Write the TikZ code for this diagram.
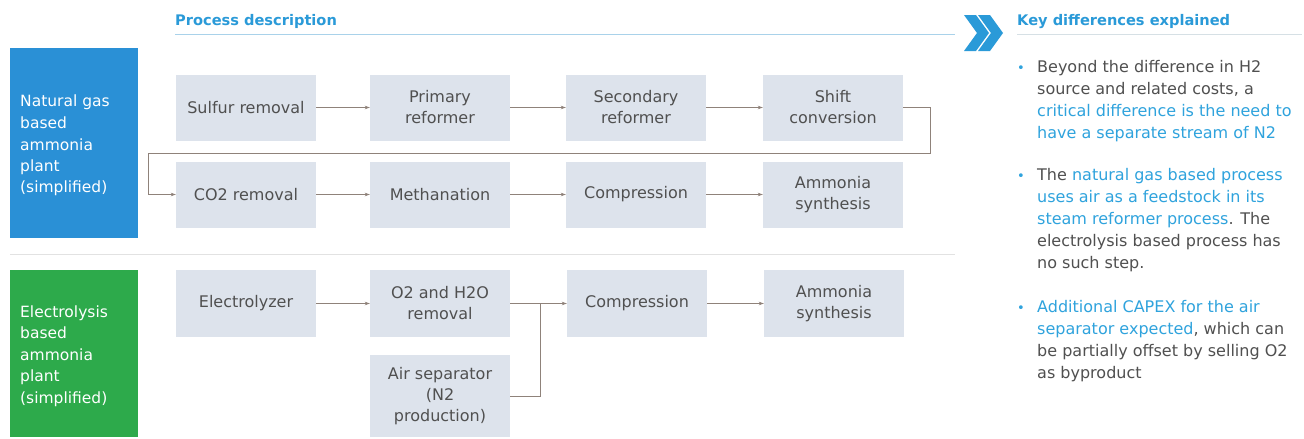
\documentclass[tikz,border=0pt]{standalone}
\usepackage{fontspec}
\setmainfont{DejaVu Sans}
\usetikzlibrary{arrows.meta}
\definecolor{ngblue}{HTML}{2A90D6}
\definecolor{elgreen}{HTML}{2DAA4B}
\definecolor{boxgray}{HTML}{DDE3EC}
\definecolor{txtgray}{HTML}{505050}
\definecolor{hblue}{HTML}{2A9AD8}
\definecolor{hiblue}{HTML}{2FA3DD}
\definecolor{linec}{HTML}{8F827A}
\definecolor{rulec}{HTML}{A9D2EA}
\definecolor{sepc}{HTML}{E2E2E2}
\begin{document}
\begin{tikzpicture}[x=1pt,y=-1pt,
  proc/.style={fill=boxgray, draw=none, minimum width=140pt, minimum height=66pt,
    text=txtgray, align=center, inner sep=0pt,
    font=\fontsize{16}{21}\selectfont},
  flow/.style={draw=linec, line width=0.7pt, -{Stealth[length=5pt,width=3.5pt]}},
  link/.style={draw=linec, line width=0.7pt},
  side/.style={anchor=base west, text=white, inner sep=0pt,
    font=\fontsize{15.5}{18}\selectfont},
  head/.style={anchor=base west, text=hblue, inner sep=0pt,
    font=\fontsize{14.6}{16}\selectfont\bfseries},
  note/.style={anchor=base west, text=txtgray, inner sep=0pt,
    font=\fontsize{16}{18}\selectfont},
  dot/.style={anchor=base west, text=hiblue, inner sep=0pt,
    font=\fontsize{13}{16}\selectfont}]
\useasboundingbox (0,0) rectangle (1304,439);
\fill[white] (0,0) rectangle (1304,439);

% headers
\node[head] (h1) at (175,25) {Process description};
\draw[rulec, line width=1pt] (175,34) -- (955,34);
\node[head] (h2) at (1017,25) {Key differences explained};
\draw[rulec!60!gray!40, line width=0.8pt] (1017,34) -- (1302,34);
% chevrons
\fill[hblue] (964,15) -- (976,15) -- (989,33) -- (976,51) -- (964,51) -- (977,33) -- cycle;
\fill[hblue] (978,15) -- (990,15) -- (1003,33) -- (990,51) -- (978,51) -- (991,33) -- cycle;

% separator
\draw[sepc, line width=1pt] (10,254) -- (955,254);

% side boxes
\fill[ngblue] (10,48) rectangle (138,238);
\node[side] (s1) at (20,106) {Natural gas};
\node[side] (s2) at (20,128) {based};
\node[side] (s3) at (20,150) {ammonia};
\node[side] (s4) at (20,171) {plant};
\node[side] (s5) at (20,192) {(simplified)};
\fill[elgreen] (10,270) rectangle (138,437);
\node[side] (g1) at (20,317) {Electrolysis};
\node[side] (g2) at (20,338) {based};
\node[side] (g3) at (20,360) {ammonia};
\node[side] (g4) at (20,381) {plant};
\node[side] (g5) at (20,403) {(simplified)};

% natural gas process
\node[proc] (sulf) at (246,107.5) {Sulfur removal};
\node[proc] (prim) at (440,107.5) {Primary\\reformer};
\node[proc] (sec)  at (636,107.5) {Secondary\\reformer};
\node[proc] (shift) at (833,107.5) {Shift\\conversion};
\node[proc] (co2)  at (246,194.5) {CO2 removal};
\node[proc] (meth) at (440,194.5) {Methanation};
\node[proc] (comp1) at (636,194.5) {Compression};
\node[proc] (amm1) at (833,194.5) {Ammonia\\synthesis};

\draw[flow] (sulf) -- (prim);
\draw[flow] (prim) -- (sec);
\draw[flow] (sec) -- (shift);
\coordinate (t1) at (930,153);
\coordinate (t2) at (148,153);
\draw[flow] (shift.east) -| (t1) -- (t2) |- (co2.west);
\draw[flow] (co2) -- (meth);
\draw[flow] (meth) -- (comp1);
\draw[flow] (comp1) -- (amm1);

% electrolysis process
\node[proc, minimum height=67pt] (elec) at (246,303.5) {Electrolyzer};
\node[proc, minimum height=67pt] (o2) at (440,303.5) {O2 and H2O\\removal};
\node[proc, minimum height=67pt] (comp2) at (637,303.5) {Compression};
\node[proc, minimum height=67pt] (amm2) at (834,303.5) {Ammonia\\synthesis};
\node[proc, minimum height=82pt] (air) at (440,396) {Air separator\\(N2\\production)};

\draw[flow] (elec) -- (o2);
\coordinate (m) at (540,303.5);
\draw[link] (o2.east) -- (m);
\draw[link] (air.east) -| (m);
\draw[flow] (m) -- (comp2.west);
\draw[flow] (comp2) -- (amm2);

% key differences text
\node[dot] (b1) at (1017,72) {•};
\node[note] (l1) at (1037,72) {Beyond the difference in H2};
\node[note] (l2) at (1037,94) {source and related costs, a};
\node[note, text=hiblue] (l3) at (1037,116) {critical difference is the need to};
\node[note, text=hiblue] (l4) at (1037,138) {have a separate stream of N2};
\node[dot] (b2) at (1017,180) {•};
\node[note] (l5) at (1037,180) {The \textcolor{hiblue}{natural gas based process}};
\node[note, text=hiblue] (l6) at (1037,202) {uses air as a feedstock in its};
\node[note] (l7) at (1037,224) {\textcolor{hiblue}{steam reformer process}. The};
\node[note] (l8) at (1037,246) {electrolysis based process has};
\node[note] (l9) at (1037,268) {no such step.};
\node[dot] (b3) at (1017,312) {•};
\node[note, text=hiblue] (l10) at (1037,312) {Additional CAPEX for the air};
\node[note] (l11) at (1037,334) {\textcolor{hiblue}{separator expected}, which can};
\node[note] (l12) at (1037,356) {be partially offset by selling O2};
\node[note] (l13) at (1037,378) {as byproduct};
\end{tikzpicture}
\end{document}
